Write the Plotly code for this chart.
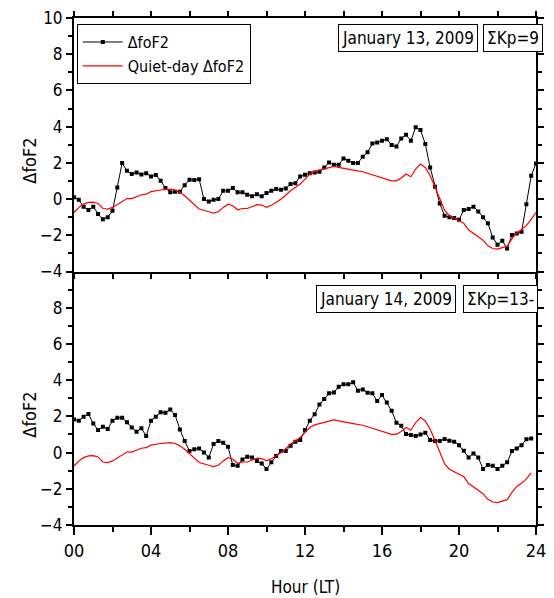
import numpy as np
import plotly.graph_objects as go
from plotly.subplots import make_subplots

# ---- data ----
hours_top = np.arange(0, 24.001, 0.25)
dfof2_jan13 = [0.10, -0.04, -0.42, -0.60, -0.42, -0.83, -1.12, -1.00, -0.65, 0.64, 1.99, 1.56, 1.38,
               1.47, 1.36, 1.42, 1.25, 1.33, 1.01, 0.61, 0.37, 0.41, 0.41, 0.77, 1.07, 1.05, 1.10,
               0.00, -0.13, -0.04, 0.00, 0.46, 0.46, 0.61, 0.37, 0.37, 0.24, 0.15, 0.27, 0.15, 0.33,
               0.46, 0.55, 0.52, 0.59, 0.83, 0.88, 1.25, 1.34,
               1.42, 1.47, 1.51, 1.75, 2.02, 1.90, 1.90, 2.24, 2.12, 1.99, 1.99, 2.34, 2.58, 3.07,
               3.13, 3.22, 3.31, 2.98, 2.91, 3.35, 3.55, 3.22, 3.96, 3.81, 3.04, 1.75, 0.68, -0.24,
               -0.92, -1.01, -1.05, -1.14, -0.61, -0.55, -0.42, -0.68, -1.01, -1.33, -2.12, -2.52,
               -2.30, -2.73, -1.99, -1.90, -1.80, -0.28, 1.29, 1.97]

hours_bot = np.arange(0, 23.751, 0.25)
dfof2_jan14 = [1.83, 1.76, 1.98, 2.13, 1.61, 1.24, 1.43, 1.30, 1.76, 1.92, 1.92, 1.67, 1.39,
               1.15, 1.34, 0.91, 1.76, 1.98, 2.22, 2.20, 2.38, 2.07, 1.28, 0.64, 0.08, 0.19, 0.23,
               0.01, -0.27, 0.47, 0.64, 0.54, 0.32, -0.69, -0.73, -0.38, -0.23, -0.27, -0.47, -0.60,
               -0.91, -0.54, -0.19, 0.08, 0.08, 0.38, 0.60, 0.69, 1.24,
               1.76, 2.11, 2.66, 2.96, 3.27, 3.32, 3.64, 3.77, 3.77, 3.88, 3.42, 3.49, 3.31, 3.27,
               2.85, 3.18, 2.77, 2.31, 1.65, 1.48, 1.02, 0.97, 0.91, 1.00, 1.10, 0.69, 0.64, 0.64,
               0.75, 0.65, 0.60, 0.41, 0.10, -0.27, -0.05, -0.27, -0.91, -0.69, -0.73, -0.91, -0.73,
               -0.54, 0.08, 0.23, 0.41, 0.73, 0.78]

quiet_hours = [0, 0.3, 0.5, 0.75, 1.0, 1.25, 1.5, 1.75, 2.0, 2.25, 2.5, 2.75, 3.0, 3.25, 3.5, 3.75,
               4.0, 4.5, 5.0, 5.25, 5.5, 5.75, 6.05, 6.5, 7.0, 7.25, 7.5, 7.75, 8.0, 8.25, 8.5, 8.75,
               9.0, 9.25, 9.5, 9.75, 10.0, 10.3, 10.8, 11.25, 11.75, 12.0, 12.25, 12.5, 13.0, 13.25,
               13.5, 13.75, 14.0, 14.5, 15.0, 15.5, 16.0, 16.5, 16.75, 17.0, 17.25, 17.5, 17.75,
               18.0, 18.25, 18.5, 18.75, 19.0, 19.25, 19.5, 20.0, 20.25, 20.5, 21.0, 21.25, 21.5,
               21.75, 22.0, 22.25, 22.5, 22.75, 23.0, 23.25, 23.5, 23.75, 24.0]
quiet_dfof2 = [-0.74, -0.42, -0.28, -0.18, -0.17, -0.24, -0.52, -0.55, -0.46, -0.31, -0.15, 0.03,
               0.03, 0.13, 0.24, 0.27, 0.41, 0.50, 0.55, 0.50, 0.37, 0.18, -0.09, -0.55, -0.70,
               -0.77, -0.70, -0.46, -0.28, -0.37, -0.59, -0.52, -0.52, -0.42, -0.31, -0.33, -0.46,
               -0.31, 0.03, 0.46, 0.83, 1.10, 1.38, 1.53, 1.66, 1.75, 1.80, 1.75, 1.69, 1.60, 1.51,
               1.34, 1.16, 1.01, 1.01, 1.16, 1.38, 1.23, 1.66, 1.93, 1.75, 1.29, 0.68, 0.00, -0.61,
               -0.92, -1.23, -1.34, -1.71, -2.08, -2.27, -2.58, -2.73, -2.76, -2.67, -2.60, -2.20,
               -1.87, -1.70, -1.45, -1.12, -0.74]

x_tickvals = [0, 4, 8, 12, 16, 20, 24]
x_ticktext = ["00", "04", "08", "12", "16", "20", "24"]
y_top_ticks = [-4, -2, 0, 2, 4, 6, 8, 10]
y_bot_ticks = [-4, -2, 0, 2, 4, 6, 8]

FONT = "DejaVu Sans Condensed, Liberation Sans Narrow, Arial Narrow, sans-serif"

fig = make_subplots(rows=2, cols=1, vertical_spacing=0)

fig.add_trace(go.Scatter(x=hours_top, y=dfof2_jan13, mode="lines+markers", name="\u0394foF2",
                         line=dict(color="black", width=1),
                         marker=dict(symbol="square", size=4, color="black")), row=1, col=1)
fig.add_trace(go.Scatter(x=quiet_hours, y=quiet_dfof2, mode="lines", name="Quiet-day \u0394foF2",
                         line=dict(color="red", width=1.2)), row=1, col=1)
fig.add_trace(go.Scatter(x=hours_bot, y=dfof2_jan14, mode="lines+markers", showlegend=False,
                         line=dict(color="black", width=1),
                         marker=dict(symbol="square", size=4, color="black")), row=2, col=1)
fig.add_trace(go.Scatter(x=quiet_hours[:-1], y=quiet_dfof2[:-1], mode="lines", showlegend=False,
                         line=dict(color="red", width=1.2)), row=2, col=1)

common_x = dict(range=[0, 24], showgrid=False, zeroline=False, showline=True, linecolor="black",
                linewidth=2, ticks="outside", tickcolor="black", tickwidth=1.5)
fig.update_xaxes(**common_x, mirror="ticks", showticklabels=False, tickvals=x_tickvals, ticklen=5,
                 minor=dict(dtick=2, ticklen=5, ticks="outside", tickcolor="black", tickwidth=1.5),
                 row=1, col=1)
fig.update_xaxes(**common_x, mirror=False, tickvals=x_tickvals, ticktext=x_ticktext, ticklen=8,
                 minor=dict(dtick=2, ticklen=5, ticks="outside", tickcolor="black", tickwidth=1.5),
                 tickfont=dict(family=FONT, size=18, color="black"), row=2, col=1)

common_y = dict(range=[-4, 10], showgrid=False, zeroline=False, showline=True, linecolor="black",
                linewidth=2, mirror="ticks", ticks="outside", ticklen=6, tickcolor="black",
                tickwidth=1.5,
                minor=dict(dtick=1, ticklen=4, ticks="outside", tickcolor="black", tickwidth=1.5),
                tickfont=dict(family=FONT, size=17, color="black"))
fig.update_yaxes(**common_y, tickvals=y_top_ticks, row=1, col=1)
fig.update_yaxes(**common_y, tickvals=y_bot_ticks, row=2, col=1)

def box(text, x, y):
    return dict(text=text, x=x, y=y, xref="paper", yref="paper", showarrow=False,
                font=dict(family=FONT, size=17, color="black"), bordercolor="black",
                borderwidth=1, borderpad=3, bgcolor="white", xanchor="center", yanchor="middle")

annotations = [
    box("January 13, 2009", 0.723, 0.960),
    box("\u03a3Kp=9", 0.951, 0.960),
    box("January 14, 2009", 0.676, 0.446),
    box("\u03a3Kp=13-", 0.924, 0.446),
    dict(text="\u0394foF2", x=-0.097, y=0.719, xref="paper", yref="paper", showarrow=False,
         textangle=-90, xanchor="center", yanchor="middle",
         font=dict(family=FONT, size=18, color="black")),
    dict(text="\u0394foF2", x=-0.097, y=0.218, xref="paper", yref="paper", showarrow=False,
         textangle=-90, xanchor="center", yanchor="middle",
         font=dict(family=FONT, size=18, color="black")),
    dict(text="Hour (LT)", x=(311 - 74) / 472.5, y=-0.122, xref="paper", yref="paper",
         showarrow=False, xanchor="center", yanchor="middle",
         font=dict(family=FONT, size=17, color="black")),
]

fig.update_layout(
    width=554, height=598,
    margin=dict(l=74, r=8, t=16, b=73),
    plot_bgcolor="white", paper_bgcolor="white",
    font=dict(family=FONT, color="black"),
    annotations=annotations,
    showlegend=True,
    legend=dict(x=0.006, y=0.988, xanchor="left", yanchor="top", bordercolor="black",
                borderwidth=1, bgcolor="white", font=dict(family=FONT, size=16, color="black"),
                itemwidth=40, tracegroupgap=0),
)

fig.write_html("out.html")
